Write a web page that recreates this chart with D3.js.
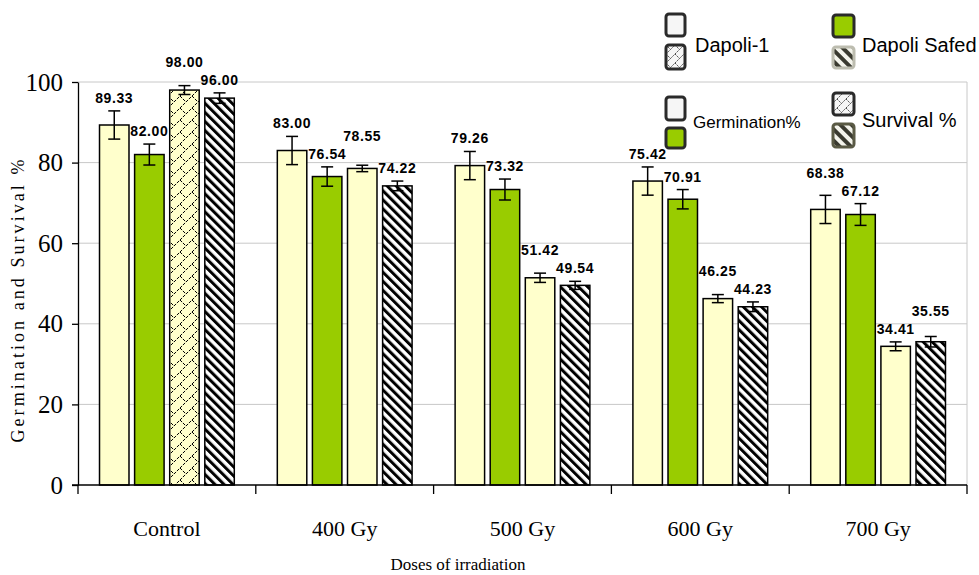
<!DOCTYPE html>
<html>
<head>
<meta charset="utf-8">
<script src="https://cdn.jsdelivr.net/npm/d3@7"></script>
<style>
  body { margin: 0; background: #fff; }
  svg { display: block; }
</style>
</head>
<body>
<div id="chart"></div>
<script>
// doses on the x axis
const doses = ["Control", "400 Gy", "500 Gy", "600 Gy", "700 Gy"];

// germination % and survival % for the two varieties
const germDapoli1 = [89.33, 83.00, 79.26, 75.42, 68.38];
const germSafed = [82.00, 76.54, 73.32, 70.91, 67.12];
const survDapoli1 = [98.00, 78.55, 51.42, 46.25, 34.41];
const survSafed = [96.00, 74.22, 49.54, 44.23, 35.55];

// error bars
const errGermDapoli1 = [3.5, 3.5, 3.5, 3.5, 3.5];
const errGermSafed = [2.6, 2.4, 2.6, 2.4, 2.7];
const errSurvDapoli1 = [1.1, 0.8, 1.15, 1.0, 1.1];
const errSurvSafed = [1.3, 1.2, 1.0, 1.2, 1.3];

const yTicks = [0, 20, 40, 60, 80, 100];

const seriesNames = ["g1", "g2", "s1", "s2"];
const seriesVals = [germDapoli1, germSafed, survDapoli1, survSafed];
const seriesErr = [errGermDapoli1, errGermSafed, errSurvDapoli1, errSurvSafed];

const width = 979, height = 575;
const margin = { top: 82, right: 12, bottom: 90, left: 78 };

const svg = d3.select("#chart").append("svg")
    .attr("width", width)
    .attr("height", height);

// patterns
const defs = svg.append("defs");
const brick = defs.append("pattern")
    .attr("id", "brick")
    .attr("patternUnits", "userSpaceOnUse")
    .attr("width", 12).attr("height", 12);
brick.append("rect").attr("width", 12).attr("height", 12).attr("fill", "#ffffcc");
brick.append("path")
    .attr("d", "M0,12 L12,0 M-3,3 L3,-3 M9,15 L15,9 M0,0 L6,6 M6,12 L12,18 M6,-6 L12,0")
    .attr("stroke", "#000").attr("stroke-width", 1).attr("stroke-dasharray", "3,1.2").attr("fill", "none");

const stripes = defs.append("pattern")
    .attr("id", "stripes")
    .attr("patternUnits", "userSpaceOnUse")
    .attr("width", 6.4).attr("height", 6.4)
    .attr("patternTransform", "rotate(-45)");
stripes.append("rect").attr("width", 6.4).attr("height", 6.4).attr("fill", "#fff");
stripes.append("rect").attr("width", 3).attr("height", 6.4).attr("fill", "#000");

const stripesSmall = defs.append("pattern")
    .attr("id", "stripesSmall")
    .attr("patternUnits", "userSpaceOnUse")
    .attr("width", 8).attr("height", 8)
    .attr("patternTransform", "rotate(-45)");
stripesSmall.append("rect").attr("width", 8).attr("height", 8).attr("fill", "#f4f4ec");
stripesSmall.append("rect").attr("width", 4).attr("height", 8).attr("fill", "#3a3a30");

const cross = defs.append("pattern")
    .attr("id", "cross")
    .attr("patternUnits", "userSpaceOnUse")
    .attr("width", 9).attr("height", 9);
cross.append("rect").attr("width", 9).attr("height", 9).attr("fill", "#f6f6f6");
cross.append("path")
    .attr("d", "M0,9 L9,0 M0,0 L4.5,4.5")
    .attr("stroke", "#222").attr("stroke-width", 0.8).attr("stroke-dasharray", "2,1").attr("fill", "none");

const fills = {
    g1: () => "#ffffcc",
    g2: () => "#99cc00",
    s1: (i) => i === 0 ? "url(#brick)" : "#ffffcc",
    s2: () => "url(#stripes)"
};

const x0 = d3.scaleBand()
    .domain(doses)
    .range([margin.left, width - margin.right])
    .paddingInner(0.242)
    .paddingOuter(0.121);
const x1 = d3.scaleBand()
    .domain(seriesNames)
    .range([0, x0.bandwidth()])
    .paddingInner(0.16);
const y = d3.scaleLinear()
    .domain([0, 100])
    .range([height - margin.bottom, margin.top]);

const plotRight = width - margin.right;
const step = x0.step();

// gridlines
svg.append("g")
    .selectAll("line")
    .data(yTicks.filter(d => d > 0))
    .join("line")
    .attr("x1", margin.left).attr("x2", plotRight)
    .attr("y1", d => y(d)).attr("y2", d => y(d))
    .attr("stroke", "#c8c8c8").attr("stroke-width", 1);
svg.append("line")
    .attr("x1", plotRight).attr("x2", plotRight)
    .attr("y1", y(100)).attr("y2", y(0))
    .attr("stroke", "#c8c8c8");

// y axis
const gy = svg.append("g")
    .attr("transform", `translate(${margin.left},0)`)
    .call(d3.axisLeft(y).tickValues(yTicks).tickSize(6).tickPadding(9).tickSizeOuter(0));
gy.select(".domain").attr("stroke", "#000").attr("stroke-width", 1.3);
gy.selectAll(".tick line").attr("stroke", "#000").attr("stroke-width", 1.3);
gy.selectAll("text")
    .attr("font-family", "'Liberation Serif', 'Times New Roman', serif")
    .attr("font-size", 25)
    .attr("fill", "#000");

// bars
const barData = [];
doses.forEach((d, i) => {
    seriesNames.forEach((s, k) => {
        barData.push({ dose: d, i: i, key: s, value: seriesVals[k][i], err: seriesErr[k][i] });
    });
});

svg.append("g")
    .selectAll("rect")
    .data(barData)
    .join("rect")
    .attr("x", d => x0(d.dose) + x1(d.key))
    .attr("y", d => y(d.value))
    .attr("width", x1.bandwidth())
    .attr("height", d => y(0) - y(d.value))
    .attr("fill", d => fills[d.key](d.i))
    .attr("stroke", "#000")
    .attr("stroke-width", 1.5);

// error bars
const eb = svg.append("g").attr("stroke", "#000").attr("stroke-width", 1.5);
const cap = 6;
barData.forEach(d => {
    const cx = x0(d.dose) + x1(d.key) + x1.bandwidth() / 2;
    eb.append("line").attr("x1", cx).attr("x2", cx)
        .attr("y1", y(d.value + d.err)).attr("y2", y(d.value - d.err));
    eb.append("line").attr("x1", cx - cap).attr("x2", cx + cap)
        .attr("y1", y(d.value + d.err)).attr("y2", y(d.value + d.err));
    eb.append("line").attr("x1", cx - cap).attr("x2", cx + cap)
        .attr("y1", y(d.value - d.err)).attr("y2", y(d.value - d.err));
});

// x axis
svg.append("line")
    .attr("x1", margin.left - 6).attr("x2", plotRight)
    .attr("y1", y(0)).attr("y2", y(0))
    .attr("stroke", "#000").attr("stroke-width", 1.3);
svg.append("g")
    .selectAll("line")
    .data(doses.concat(["end"]))
    .join("line")
    .attr("x1", (d, i) => margin.left + i * step)
    .attr("x2", (d, i) => margin.left + i * step)
    .attr("y1", y(0)).attr("y2", y(0) + 9)
    .attr("stroke", "#000").attr("stroke-width", 1.3);
svg.append("g")
    .selectAll("text")
    .data(doses)
    .join("text")
    .attr("x", d => x0(d) + x0.bandwidth() / 2)
    .attr("y", y(0) + 51)
    .attr("text-anchor", "middle")
    .attr("font-family", "'Liberation Serif', 'Times New Roman', serif")
    .attr("font-size", 22)
    .text(d => d);

// value labels, nudged up where neighbours would collide
const labelGap = 18;
doses.forEach((d, i) => {
    const labs = seriesNames.map((s, k) => ({
        key: s,
        value: seriesVals[k][i],
        ly: y(seriesVals[k][i] + seriesErr[k][i]) - 8
    }));
    for (let k = 0; k < labs.length - 1; k++) {
        const a = labs[k], b = labs[k + 1];
        if (Math.abs(a.ly - b.ly) < labelGap) {
            if (a.ly < b.ly) a.ly = b.ly - labelGap;
            else b.ly = a.ly - labelGap;
        }
    }
    svg.append("g")
        .selectAll("text")
        .data(labs)
        .join("text")
        .attr("x", l => x0(d) + x1(l.key) + x1.bandwidth() / 2)
        .attr("y", l => l.ly)
        .attr("text-anchor", "middle")
        .attr("font-family", "'Liberation Sans', Arial, sans-serif")
        .attr("font-weight", "bold")
        .attr("font-size", 14)
        .attr("letter-spacing", 0.6)
        .text(l => l.value.toFixed(2));
});

// axis titles
svg.append("text")
    .attr("x", 458).attr("y", 570)
    .attr("text-anchor", "middle")
    .attr("font-family", "'Liberation Serif', 'Times New Roman', serif")
    .attr("font-size", 17)
    .text("Doses of irradiation");
svg.append("text")
    .attr("transform", "translate(24,301) rotate(-90)")
    .attr("text-anchor", "middle")
    .attr("font-family", "'Liberation Serif', 'Times New Roman', serif")
    .attr("font-size", 18)
    .attr("textLength", 283)
    .attr("lengthAdjust", "spacing")
    .text("Germination and Survival %");

// legend (as drawn in the original, two loose blocks)
const legendIcons = [
    { x: 666, y: 14, w: 19, h: 22, fill: "#f6f6f6", stroke: "#2a2a2a" },
    { x: 666, y: 45, w: 19, h: 24, fill: "url(#cross)", stroke: "#2a2a2a" },
    { x: 833, y: 15, w: 21, h: 22, fill: "#99cc00", stroke: "#2a2a2a" },
    { x: 833, y: 47, w: 21, h: 21, fill: "url(#stripesSmall)", stroke: "#bdbdb0" },
    { x: 666, y: 97, w: 19, h: 23, fill: "#f6f6f6", stroke: "#2a2a2a" },
    { x: 666, y: 128, w: 19, h: 20, fill: "#99cc00", stroke: "#2a2a2a" },
    { x: 833, y: 93, w: 21, h: 22, fill: "url(#cross)", stroke: "#2a2a2a" },
    { x: 833, y: 124, w: 21, h: 23, fill: "url(#stripesSmall)", stroke: "#5a5a45" }
];
svg.append("g")
    .selectAll("rect")
    .data(legendIcons)
    .join("rect")
    .attr("x", d => d.x).attr("y", d => d.y)
    .attr("width", d => d.w).attr("height", d => d.h)
    .attr("rx", 3)
    .attr("fill", d => d.fill)
    .attr("stroke", d => d.stroke)
    .attr("stroke-width", 3);

const legendTexts = [
    { t: "Dapoli-1", x: 695, y: 52, s: 20 },
    { t: "Dapoli Safed", x: 862, y: 52, s: 20 },
    { t: "Germination%", x: 693, y: 128, s: 17 },
    { t: "Survival %", x: 862, y: 127, s: 20 }
];
svg.append("g")
    .selectAll("text")
    .data(legendTexts)
    .join("text")
    .attr("x", d => d.x).attr("y", d => d.y)
    .attr("font-family", "'Liberation Sans', Arial, sans-serif")
    .attr("font-size", d => d.s)
    .text(d => d.t);
</script>
</body>
</html>
